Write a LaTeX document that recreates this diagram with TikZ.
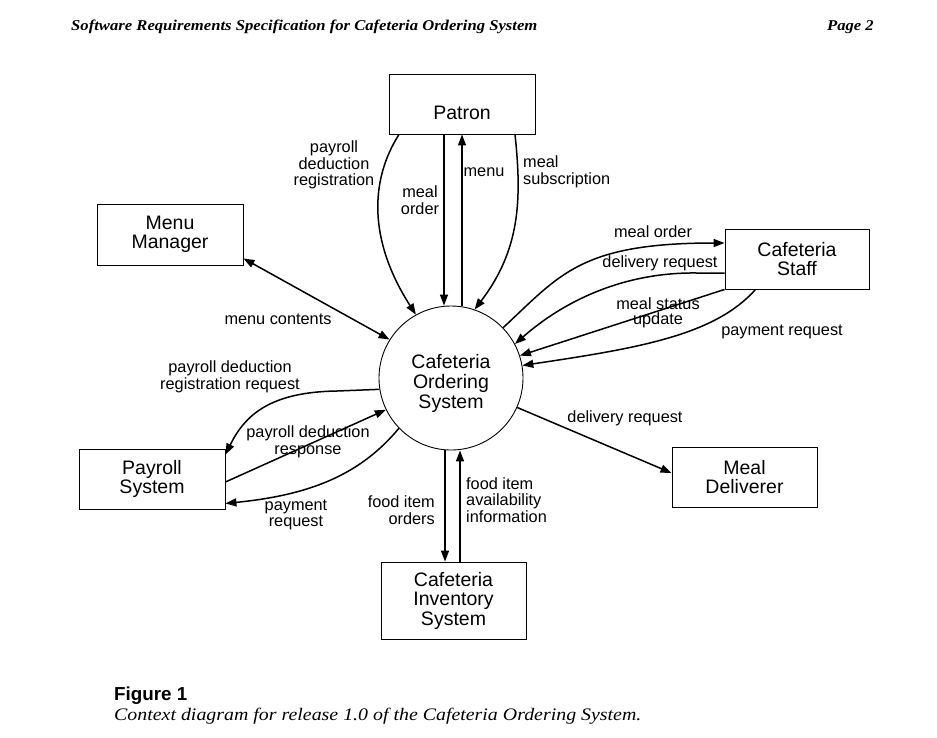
\documentclass[tikz,border=0pt]{standalone}
\usepackage{fontspec}
\usepackage{graphicx}
\setmainfont{Liberation Sans}
\newfontfamily\seriffam{Liberation Serif}
\usetikzlibrary{arrows.meta}
\tikzset{
  box/.style={draw, line width=0.9pt, rectangle, inner sep=0pt, minimum width=146pt, minimum height=60pt, font=\fontsize{19.5}{19.5}\selectfont},
  multi/.style={align=center},
  proc/.style={draw, circle, line width=0.9pt, minimum size=144pt, inner sep=0pt},
  proctext/.style={inner sep=0pt, align=center, font=\fontsize{19.5}{20}\selectfont},
  flow/.style={line width=1.5pt, -{Triangle[length=11pt,width=8pt]}},
  biflow/.style={line width=1.5pt, {Triangle[length=11pt,width=8pt]}-{Triangle[length=11pt,width=8pt]}},
  lbl/.style={inner sep=0pt, align=center, font=\fontsize{16.3}{16.5}\selectfont},
  hdr/.style={inner sep=0pt, font=\seriffam\fontsize{15}{15}\selectfont\bfseries\itshape},
}
\begin{document}
\begin{tikzpicture}[x=1pt,y=-1pt]
\useasboundingbox (0,0) rectangle (937,737);

% header
\node[hdr, anchor=base west] (title) at (71,30) {\scalebox{1.11}[1]{Software Requirements Specification for Cafeteria Ordering System}};
\node[hdr, anchor=base east] (page) at (874,30) {\scalebox{1.11}[1]{Page 2}};

% nodes
\node[proc] (sys) at (451,378) {};
\node[proctext] (systext) at (451,383) {Cafeteria\\Ordering\\System};
\node[box, text height=30pt, text depth=0pt] (patron) at (462,104) {Patron};
\node[box, multi, minimum height=61pt] (mm) at (170,234.5) {Menu\\Manager};
\node[box, multi, minimum width=144pt] (staff) at (797,259) {Cafeteria\\Staff};
\node[box, multi] (payroll) at (152,479) {Payroll\\System};
\node[box, multi, minimum width=145pt] (md) at (744.5,477) {Meal\\Deliverer};
\node[box, multi, minimum width=145pt, minimum height=77pt] (inv) at (453.5,600.5) {Cafeteria\\Inventory\\System};

% helper coordinates
\coordinate (pdrS) at ([xshift=-63pt]patron.south);
\coordinate (moS) at ([xshift=-18pt]patron.south);
\coordinate (msS) at ([xshift=53pt]patron.south);
\coordinate (mmE) at ([yshift=7pt]mm.south east);
\coordinate (stMO) at ([yshift=16pt]staff.west);
\coordinate (stDR) at ([yshift=-14pt]staff.west);
\coordinate (stPR) at ([xshift=31pt]staff.south west);
\coordinate (prTop) at ([yshift=-6pt]payroll.north east);
\coordinate (prMid) at ([yshift=-3pt]payroll.east);
\coordinate (prBot) at ([yshift=6pt]payroll.south east);
\coordinate (invL) at ([xshift=-8.5pt]inv.north);
\coordinate (invR) at ([xshift=6.5pt]inv.north);
\coordinate (mdW) at ([yshift=4pt]md.west);

% Patron flows
\draw[flow] (pdrS) .. controls (370,180) and (368,240) .. (sys.119);
\draw[flow] (moS) -- (moS |- sys.north);
\draw[flow] (patron.south |- sys.north) -- (patron.south);
\draw[flow] (msS) .. controls (522,200) and (520,250) .. (sys.71);

% Menu manager
\draw[biflow] (mmE) -- (sys.148);

% Cafeteria staff
\draw[flow] (sys.44) .. controls (560,275) and (580,243) .. (stMO);
\draw[flow] (stDR) -- (697,273) .. controls (625,272) and (565,300) .. (sys.28);
\draw[flow] (staff.south west) -- (sys.18);
\draw[flow] (stPR) .. controls (715,335) and (640,348) .. (sys.10);

% Payroll
\draw[flow] (sys.189) -- (337,391) .. controls (270,392) and (245,415) .. (prTop);
\draw[flow] (prMid) -- (sys.206);
\draw[flow] (sys.224) .. controls (360,475) and (310,495) .. (prBot);

% Inventory
\draw[flow] (invL |- sys.south) -- (invL);
\draw[flow] (invR) -- (invR |- sys.south);

% Meal deliverer
\draw[flow] (sys.-24) -- (mdW);

% labels
\node[lbl] (l1) at (334,165) {payroll\\deduction\\registration};
\node[lbl] (l2) at (420,200) {meal\\order};
\node[lbl] (l3) at (484,172) {menu};
\node[lbl, align=left, anchor=west] (l4) at (523,172) {meal\\subscription};
\node[lbl] (l5) at (278,319) {menu contents};
\node[lbl] (l6) at (653,232) {meal order};
\node[lbl] (l7) at (660,263) {delivery request};
\node[lbl, font=\fontsize{16.3}{15}\selectfont] (l8) at (658,313) {meal status\\update};
\node[lbl] (l9) at (782,332) {payment request};
\node[lbl] (l10) at (230,377) {payroll deduction\\registration request};
\node[lbl] (l11) at (308,442) {payroll deduction\\response};
\node[lbl] (l12) at (296,515) {payment\\request};
\node[lbl, align=right, anchor=east] (l13) at (435,510) {food item\\orders};
\node[lbl, align=left, anchor=west] (l14) at (466,500) {food item\\availability\\information};
\node[lbl] (l15) at (625,418) {delivery request};

% caption
\node[inner sep=0pt, anchor=base west, font=\fontsize{18.8}{18.8}\selectfont\bfseries] (fig) at (114,700) {Figure 1};
\node[inner sep=0pt, anchor=base west, font=\seriffam\fontsize{17.6}{17.6}\selectfont\itshape] (cap) at (114,720) {\scalebox{1.13}[1]{Context diagram for release 1.0 of the Cafeteria Ordering System.}};
\end{tikzpicture}
\end{document}
